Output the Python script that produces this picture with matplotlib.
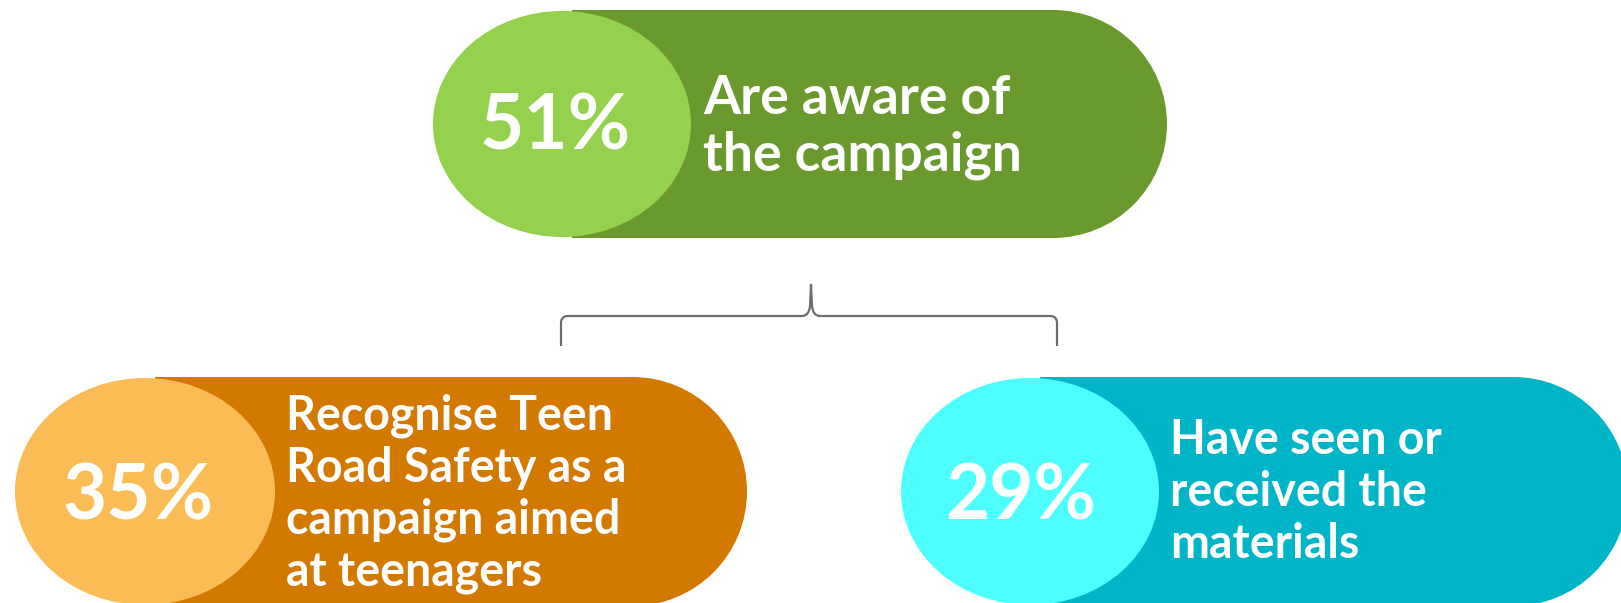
import matplotlib.pyplot as plt
from matplotlib.patches import Rectangle, Ellipse, PathPatch
from matplotlib.path import Path

# data
percent = [51, 35, 29]
labels = [
    "Are aware of\nthe campaign",
    "Recognise Teen\nRoad Safety as a\ncampaign aimed\nat teenagers",
    "Have seen or\nreceived the\nmaterials",
]
dark_colors = ["#6A9A2E", "#D47900", "#00B5C8"]
light_colors = ["#94D14C", "#FBBC55", "#4DFFFF"]

# layout in pixels (x0 of pill body, top, right end, bottom, ellipse centre/size, text pos)
pill_left = [572, 155, 1040]
pill_top = [10, 377, 377]
pill_right = [1167, 747, 1628]
pill_bottom = [238, 606, 606]
ell_cx = [562, 145, 1030]
ell_w = [258, 260, 258]
pct_x = [555, 138, 1021]
pct_y = [128, 497, 497]
lab_x = [703, 286, 1170]
lab_y = [127, 494, 492]
lab_size = [38.5, 33.5, 33.5]
lab_spacing = [1.2, 1.22, 1.22]

fig = plt.figure(figsize=(16.21, 6.03), dpi=100)
ax = fig.add_axes([0, 0, 1, 1])
ax.set_xlim(0, 1621)
ax.set_ylim(603, 0)
ax.axis('off')

font = ['Lato', 'DejaVu Sans']

for i in range(3):
    top, bot = pill_top[i], pill_bottom[i]
    h = bot - top
    r = h / 2
    # pill body
    ax.add_patch(Rectangle((pill_left[i], top), pill_right[i] - r - pill_left[i], h,
                           color=dark_colors[i], lw=0))
    ax.add_patch(Ellipse((pill_right[i] - r, top + r), 2 * r, h, color=dark_colors[i], lw=0))
    # light circle
    ax.add_patch(Ellipse((ell_cx[i], top + r), ell_w[i], h - 2, color=light_colors[i], lw=0))
    ax.text(pct_x[i], pct_y[i], f"{percent[i]}%", color='white', fontsize=55,
            fontweight='bold', family=font, ha='center', va='center')
    ax.text(lab_x[i], lab_y[i], labels[i], color='white', fontsize=lab_size[i],
            fontweight='bold', family=font, ha='left', va='center',
            linespacing=lab_spacing[i])

# bracket linking the top pill to the two below
verts = [(561, 346), (561, 323), (561, 316), (568, 316), (802, 316), (809, 316), (810, 306), (811, 284),
         (812, 306), (813, 316), (820, 316), (1050, 316), (1057, 316), (1057, 323), (1057, 346)]
codes = [Path.MOVETO, Path.LINETO, Path.CURVE3, Path.CURVE3, Path.LINETO, Path.CURVE3, Path.CURVE3, Path.LINETO,
         Path.LINETO, Path.CURVE3, Path.CURVE3, Path.LINETO, Path.CURVE3, Path.CURVE3, Path.LINETO]
ax.add_patch(PathPatch(Path(verts, codes), fill=False, edgecolor='#6E6E6E', lw=1.6))

fig.savefig('out.png', dpi=100)
